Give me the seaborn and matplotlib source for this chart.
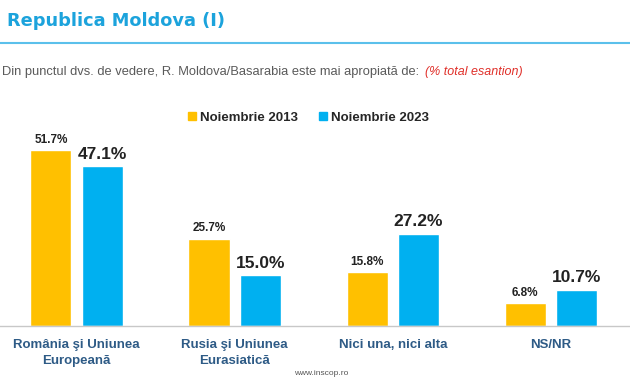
import pandas as pd
import seaborn as sns
import matplotlib.pyplot as plt
from matplotlib.lines import Line2D

# data
categories = ["România şi Uniunea\nEuropeană", "Rusia şi Uniunea\nEurasiatică",
              "Nici una, nici alta", "NS/NR"]
values_2013 = [51.7, 25.7, 15.8, 6.8]
values_2023 = [47.1, 15.0, 27.2, 10.7]
series = ["Noiembrie 2013", "Noiembrie 2023"]
colors = ["#FFC000", "#00B0F0"]

df = pd.DataFrame({
    "cat": categories * 2,
    "val": values_2013 + values_2023,
    "series": [series[0]] * 4 + [series[1]] * 4,
})

sns.set_style("white")
plt.rcParams["font.family"] = ["Liberation Sans", "DejaVu Sans"]

fig = plt.figure(figsize=(6.3, 3.8), dpi=100)
ax = fig.add_axes([-0.004, 0.142, 1.004, 0.537])

sns.barplot(data=df, x="cat", y="val", hue="series", palette=colors,
            width=0.65, gap=0.2, saturation=1, legend=False, ax=ax)

# value labels: small for 2013, big for 2023
for cont, size in zip(ax.containers, [8.5, 12.5]):
    ax.bar_label(cont, labels=[f"{v:.1f}%" for v in cont.datavalues],
                 fontsize=size, fontweight="bold", color="#222222", padding=3)

ax.set_ylim(0, 60)
ax.set_xlim(-0.5, 3.5)
ax.set_xlabel("")
ax.set_ylabel("")
ax.set_yticks([])
ax.tick_params(axis="x", length=0, pad=9)
for lbl in ax.get_xticklabels():
    lbl.set_fontsize(9.5)
    lbl.set_fontweight("bold")
    lbl.set_color("#2E5B86")
    lbl.set_linespacing(1.45)
ax.set_xticks([0.5, 1.5, 2.5], minor=True)
ax.tick_params(axis="x", which="minor", length=4, color="#BBBBBB", width=1)
for s in ["top", "left", "right"]:
    ax.spines[s].set_visible(False)
ax.spines["bottom"].set_color("#C8C8C8")
ax.spines["bottom"].set_linewidth(1)

# legend
handles = [Line2D([], [], marker="s", linestyle="", color=c, markersize=5.5) for c in colors]
fig.legend(handles, series, loc="center", bbox_to_anchor=(0.489, 0.69), ncol=2,
           frameon=False, handlelength=0.6, handletextpad=0.3, columnspacing=1.6,
           prop={"weight": "bold", "size": 9.5})

# header
fig.text(0.011, 0.945, "Republica Moldova (I)", fontsize=12.8, fontweight="bold",
         color="#1CA3DC", va="center", family="DejaVu Sans")
fig.add_artist(Line2D([0, 1], [0.887, 0.887], color="#5BC0EB", linewidth=1.5))
sub = fig.text(0.003, 0.81, "Din punctul dvs. de vedere, R. Moldova/Basarabia este mai apropiată de:",
               fontsize=9.3, color="#5A5A5A", va="center")
fig.canvas.draw()
plt.annotate("(% total esantion)", xy=(1, 0.5), xycoords=sub, xytext=(4, 0),
             textcoords="offset points", va="center", fontsize=9,
             color="#E0302A", style="italic")
fig.text(0.51, 0.008, "www.inscop.ro", fontsize=6, color="#555555", ha="center", va="bottom")

fig.savefig("out.png", dpi=100)
plt.close(fig)
